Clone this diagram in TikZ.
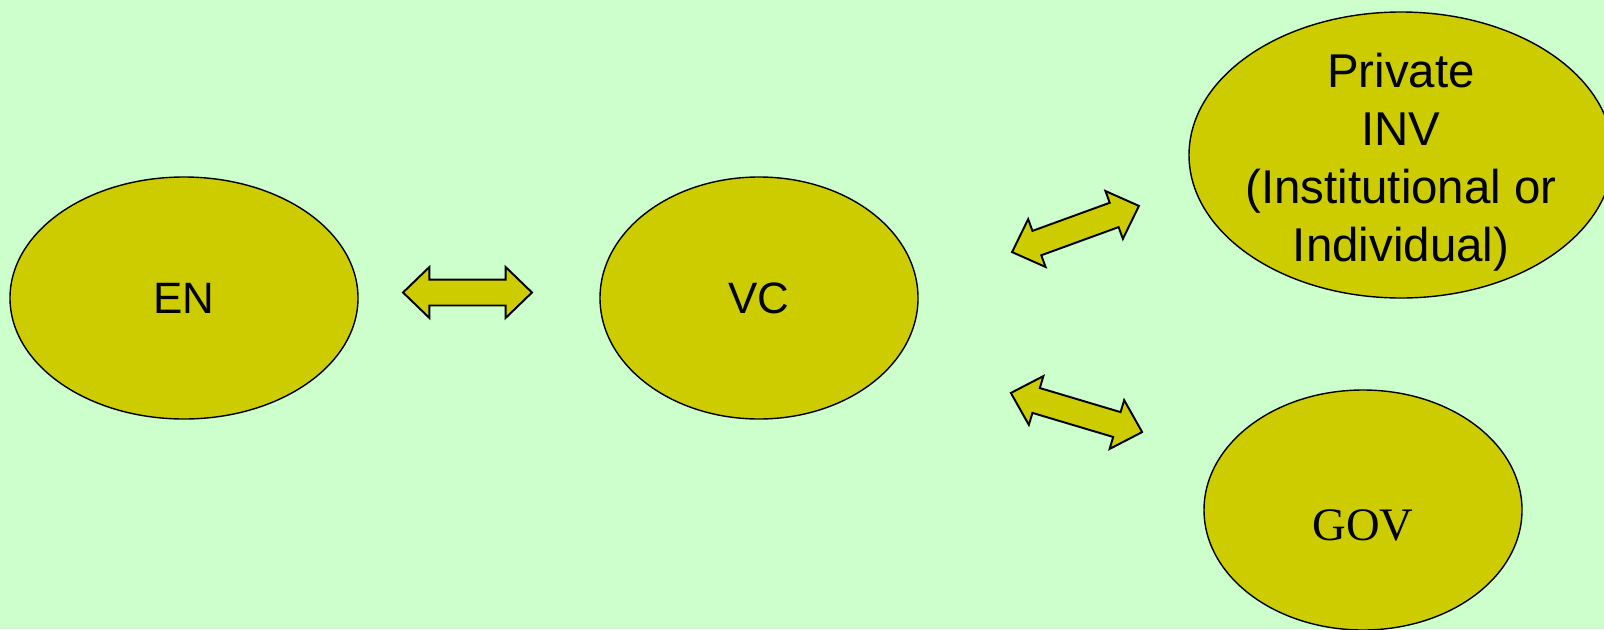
\documentclass[tikz,border=0pt]{standalone}
\usepackage{fontspec}
\setmainfont{Liberation Sans}
\newfontfamily\govfont{Liberation Serif}
\usepackage{tikz}
\usetikzlibrary{shapes, calc}
\definecolor{fondo}{HTML}{CCFFCC}
\definecolor{oliva}{HTML}{CCCC00}
\def\px{0.02cm}
\tikzset{
	every node/.style={
		font=\fontsize{25}{30}\selectfont
	},
	actor/.style={
		shape=ellipse,
		fill=oliva,
		draw=black,
		line width=0.8pt,
		inner sep=0pt,
		text centered
	},
	flecha/.style={
		shape=double arrow,
		fill=oliva,
		draw=black,
		line width=1.1pt,
		inner xsep=0pt,
		inner ysep=12*\px,
		minimum width=49*\px,
		double arrow head extend=12.5*\px,
		double arrow tip angle=88
	}
}

\begin{document}
\begin{tikzpicture}
	[x=\px, y=-\px]
	\path[use as bounding box, clip] (0,0) rectangle (1604,629);
	\fill[fondo] (0,0) rectangle (1604,629);
	
	\node[actor, minimum width=348*\px, minimum height=242*\px] (EN) at (184,298) {EN};
	\node[actor, minimum width=318*\px, minimum height=242*\px] (VC) at (759,298) {VC};
	\node[actor, minimum width=424*\px, minimum height=286*\px] (INV) at (1401,155) {};
	\node[align=center, inner sep=0pt, font=\fontsize{27}{33}\selectfont]
	(INV-txt) at ($(INV.center)+(0,7)$) {Private\\INV\\(Institutional or\\Individual)};
	\node[actor, minimum width=318*\px, minimum height=240*\px,
	font=\govfont\fontsize{26.5}{32}\selectfont] (GOV) at (1363,510)
	{\raisebox{-8.5pt}[\height][\depth]{GOV}};
	
	\node[flecha, minimum height=129*\px] (en-vc) at (467.5,292.5) {};
	\node[flecha, minimum height=135*\px, rotate=20] (vc-inv) at (1075.5,229) {};
	\node[flecha, minimum height=137*\px, rotate=-16.6] (vc-gov) at (1076.5,412.5) {};
\end{tikzpicture}
\end{document}
